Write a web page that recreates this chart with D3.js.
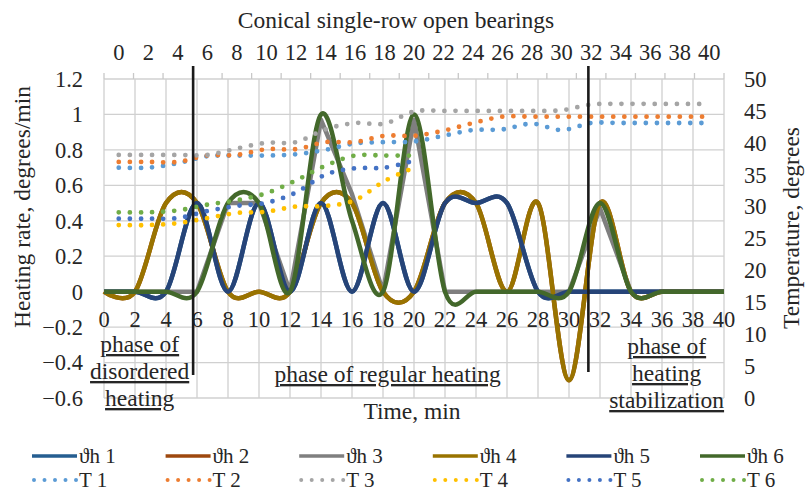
<!DOCTYPE html>
<html>
<head>
<meta charset="utf-8">
<script src="https://cdn.jsdelivr.net/npm/d3@7"></script>
<style>
body { margin: 0; background: #fff; }
text { font-family: "Liberation Serif", "Times New Roman", serif; fill: #262626; }
</style>
</head>
<body>
<div id="chart"></div>
<script>
var width = 808,
    height = 494;

// heating rate curves, one point every 2 min (bottom axis)
var minutes = [0, 2, 4, 6, 8, 10, 12, 14, 16, 18, 20, 22, 24, 26, 28, 30, 32, 34, 36, 38, 40];
var h1 = [0, 0, 0, 0.5, 0, 0.5, 0, 0.5, 0, 0.5, 0, 0.5, 0.5, 0.5, 0, 0, 0, 0, 0, 0, 0];
var h2 = [0, 0, 0.5, 0.5, 0, 0, 0, 0.5, 0.5, 0, 0, 0.5, 0.5, 0, 0.5, -0.5, 0.5, 0, 0, 0, 0];
var h3 = [0, 0, 0, 0, 0.5, 0.5, 0, 0.97, 0.55, 0, 0.97, 0, 0, 0, 0, 0, 0.47, 0, 0, 0, 0];
var h4 = [0, 0, 0.5, 0.5, 0, 0, 0, 0.5, 0.5, 0, 0, 0.5, 0.5, 0, 0.5, -0.5, 0.5, 0, 0, 0, 0];
var h5 = [0, 0, 0, 0.5, 0, 0.5, 0, 0.5, 0, 0.5, 0, 0.5, 0.5, 0.5, 0, 0, 0, 0, 0, 0, 0];
var h6 = [0, 0, 0, 0, 0.5, 0.5, 0, 1.0, 0.4, 0, 1.0, 0, 0, 0, 0, 0, 0.5, 0, 0, 0, 0];

// temperatures on the top (category) axis
var topCats = ["0", "2", "4", "6", "8", "10", "12", "14", "16", "18", "20", "22", "24", "26", "28", "30", "32", "34", "36", "38", "40"];
var t1 = [36.1, 36.1, 36.8, 37.9, 38.0, 38.0, 38.2, 38.9, 39.9, 40.1, 40.2, 41.1, 42.0, 42.1, 43.0, 42.0, 43.1, 43.1, 43.1, 43.1, 43.1];
var t2 = [37.0, 37.0, 37.0, 38.0, 38.1, 39.0, 39.0, 40.1, 40.1, 41.1, 41.1, 41.9, 43.1, 44.1, 44.1, 44.1, 44.1, 44.1, 44.1, 44.1, 44.1];
var t3 = [38.1, 38.1, 38.1, 38.1, 39.1, 40.0, 40.1, 42.1, 43.1, 43.0, 44.9, 45.0, 45.0, 45.0, 45.0, 45.1, 46.0, 46.1, 46.1, 46.1, 46.1];
var t4 = [27.1, 27.1, 27.4, 28.2, 29.0, 29.2, 30.0, 30.1, 31.0, 34.0, 36.1];
var t5 = [28.1, 28.1, 28.2, 29.3, 30.1, 30.6, 32.2, 35.0, 36.0, 36.1, 37.2];
var t6 = [29.1, 29.1, 29.4, 30.3, 31.0, 32.1, 34.1, 36.4, 38.0, 38.0, 38.0];

var rateTicks = [-0.6, -0.4, -0.2, 0, 0.2, 0.4, 0.6, 0.8, 1, 1.2];
var tempTicks = [0, 5, 10, 15, 20, 25, 30, 35, 40, 45, 50];
var timeTicks = [0, 2, 4, 6, 8, 10, 12, 14, 16, 18, 20, 22, 24, 26, 28, 30, 32, 34, 36, 38, 40];
var phaseBounds = [5.75, 31.25];

var rateNames = ["\u03d1h 1", "\u03d1h 2", "\u03d1h 3", "\u03d1h 4", "\u03d1h 5", "\u03d1h 6"];
var tempNames = ["T 1", "T 2", "T 3", "T 4", "T 5", "T 6"];
var rateColors = ["#255E91", "#9E480E", "#7F7F7F", "#997300", "#264478", "#43682B"];
var tempColors = ["#5B9BD5", "#ED7D31", "#A5A5A5", "#FFC000", "#4472C4", "#70AD47"];

var rateSeries = [h1, h2, h3, h4, h5, h6];
var tempSeries = [t1, t2, t3, t4, t5, t6];

var pLeft = 104, pRight = 724, pTop = 79, pBottom = 398;

var svg = d3.select("#chart").append("svg")
    .attr("width", width).attr("height", height);

var x = d3.scaleLinear().domain([0, 40]).range([pLeft, pRight]);
var xTop = d3.scaleBand().domain(topCats).range([pLeft, pRight]);
var y = d3.scaleLinear().domain([-0.6, 1.2]).range([pBottom, pTop]);
var yR = d3.scaleLinear().domain([0, 50]).range([pBottom, pTop]);

// grid
svg.append("g").selectAll("line").data(timeTicks).enter().append("line")
  .attr("x1", function(d) { return x(d); }).attr("x2", function(d) { return x(d); })
  .attr("y1", pTop).attr("y2", pBottom)
  .attr("stroke", "#d0d0d0").attr("stroke-width", 1.3);
svg.append("g").selectAll("line").data(rateTicks).enter().append("line")
  .attr("x1", pLeft).attr("x2", pRight)
  .attr("y1", function(d) { return y(d); }).attr("y2", function(d) { return y(d); })
  .attr("stroke", "#d0d0d0").attr("stroke-width", 1.3);

// top axis: category ticks between labels
var gTop = svg.append("g").attr("transform", "translate(0," + pTop + ")");
var bounds = topCats.map(function(c) { return xTop(c); }).concat([pRight]);
gTop.selectAll("line.tk").data(bounds).enter().append("line")
  .attr("class", "tk")
  .attr("x1", function(d) { return d; }).attr("x2", function(d) { return d; })
  .attr("y1", 0).attr("y2", -6)
  .attr("stroke", "#c8c8c8").attr("stroke-width", 1.3);
gTop.selectAll("text.lb").data(topCats).enter().append("text")
  .attr("class", "lb")
  .attr("x", function(d) { return xTop(d) + xTop.bandwidth() / 2; })
  .attr("y", -19)
  .attr("text-anchor", "middle")
  .style("font-size", "22.5px")
  .text(function(d) { return d; });

// bottom axis labels next to the zero line
svg.append("g").selectAll("text").data(timeTicks).enter().append("text")
  .attr("x", function(d) { return x(d); })
  .attr("y", y(0) + 35)
  .attr("text-anchor", "middle")
  .style("font-size", "22.5px")
  .text(function(d) { return d; });

// left axis labels
svg.append("g").selectAll("text").data(rateTicks).enter().append("text")
  .attr("x", 83)
  .attr("y", function(d) { return y(d); })
  .attr("dy", "0.35em")
  .attr("text-anchor", "end")
  .style("font-size", "22.5px")
  .text(function(d) { return d3.format("")(d); });

// right axis labels
svg.append("g").selectAll("text").data(tempTicks).enter().append("text")
  .attr("x", 744)
  .attr("y", function(d) { return yR(d); })
  .attr("dy", "0.35em")
  .attr("text-anchor", "start")
  .style("font-size", "22.5px")
  .text(function(d) { return d; });

// titles
svg.append("text").attr("x", 396).attr("y", 28).attr("text-anchor", "middle")
  .style("font-size", "23.5px").text("Conical single-row open bearings");
svg.append("text").attr("x", 412).attr("y", 419).attr("text-anchor", "middle")
  .style("font-size", "23.5px").text("Time, min");
svg.append("text").attr("transform", "translate(30,207) rotate(-90)")
  .attr("text-anchor", "middle").style("font-size", "23.5px")
  .text("Heating rate, degrees/min");
svg.append("text").attr("transform", "translate(799,228) rotate(-90)")
  .attr("text-anchor", "middle").style("font-size", "23.5px")
  .text("Temperature, degrees");

// heating rate lines
var rateLine = d3.line()
  .x(function(d, i) { return x(minutes[i]); })
  .y(function(d) { return y(d); })
  .curve(d3.curveCardinal);
var rateLineStraight = d3.line()
  .x(function(d, i) { return x(minutes[i]); })
  .y(function(d) { return y(d); });

svg.append("g").selectAll("path").data(rateSeries).enter().append("path")
  .attr("d", function(d, i) { return i == 2 ? rateLineStraight(d) : rateLine(d); })
  .attr("fill", "none")
  .attr("stroke", function(d, i) { return rateColors[i]; })
  .attr("stroke-width", 4.5)
  .attr("stroke-linejoin", "round");

// temperature lines (dotted), drawn over the rates
var tempLine = d3.line()
  .x(function(d, i) { return xTop(topCats[i]) + xTop.bandwidth() / 2; })
  .y(function(d) { return yR(d); })
  .curve(d3.curveCardinal);

svg.append("g").selectAll("path").data(tempSeries).enter().append("path")
  .attr("d", function(d) { return tempLine(d); })
  .attr("fill", "none")
  .attr("stroke", function(d, i) { return tempColors[i]; })
  .attr("stroke-width", 4.8)
  .attr("stroke-linecap", "round")
  .attr("stroke-dasharray", "0 11.1");

// phase boundaries
svg.append("g").selectAll("line").data(phaseBounds).enter().append("line")
  .attr("x1", function(d) { return x(d); }).attr("x2", function(d) { return x(d); })
  .attr("y1", 66).attr("y2", function(d, i) { return i == 0 ? 375 : 372; })
  .attr("stroke", "#1a1a1a").attr("stroke-width", 2.6);

// phase labels
var phases = [
  { at: 2.3, lines: ["phase of", "disordered", "heating"], y0: 352 },
  { at: 18.3, lines: ["phase of regular heating"], y0: 382 },
  { at: 36.3, lines: ["phase of", "heating", "stabilization"], y0: 354 }
];
phases.forEach(function(p) {
  p.lines.forEach(function(t, k) {
    svg.append("text")
      .attr("x", x(p.at))
      .attr("y", p.y0 + k * 27)
      .attr("text-anchor", "middle")
      .style("font-size", "23.5px")
      .style("text-decoration", "underline")
      .text(t);
  });
});

// legend
var legend = svg.append("g");
rateNames.forEach(function(n, i) {
  var lx = 32 + i * 133.6;
  legend.append("line").attr("x1", lx).attr("x2", lx + 45)
    .attr("y1", 456).attr("y2", 456)
    .attr("stroke", rateColors[i]).attr("stroke-width", 3.6);
  legend.append("text").attr("x", lx + 47).attr("y", 456).attr("dy", "0.35em")
    .style("font-size", "21px").text(n);
});
tempNames.forEach(function(n, i) {
  var lx = 32 + i * 133.6;
  legend.append("line").attr("x1", lx + 2).attr("x2", lx + 45)
    .attr("y1", 480).attr("y2", 480)
    .attr("stroke", tempColors[i]).attr("stroke-width", 4)
    .attr("stroke-linecap", "round").attr("stroke-dasharray", "0 10.5");
  legend.append("text").attr("x", lx + 47).attr("y", 480).attr("dy", "0.35em")
    .style("font-size", "21px").text(n);
});
</script>
</body>
</html>
